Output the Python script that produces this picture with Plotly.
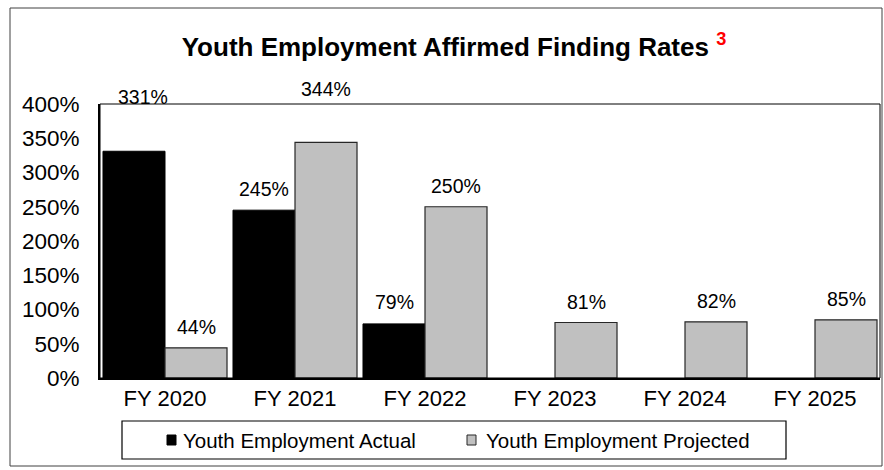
import plotly.graph_objects as go

categories = ["FY 2020", "FY 2021", "FY 2022", "FY 2023", "FY 2024", "FY 2025"]
actual = [331, 245, 79, None, None, None]
projected = [44, 344, 250, 81, 82, 85]
actual_name = "Youth Employment Actual"
projected_name = "Youth Employment Projected"
title_text = "Youth Employment Affirmed Finding Rates"
title_note = "3"
y_ticks = [0, 50, 100, 150, 200, 250, 300, 350, 400]

# label offsets (px above bar top) - style only
actual_label_shift = [54, 21, 22, 0, 0, 0]
actual_label_xshift = [9, 0, 0, 0, 0, 0]
projected_label_shift = [21, 53, 21, 21, 21, 21]

FONT = "Liberation Sans, Arial, sans-serif"
L, R, T, B = 100, 4, 104, 92
W, H = 884, 470
PW, PH = W - L - R, H - T - B

def px_x(p):
    return (p - L) / PW

def px_y(p):
    return (H - B - p) / PH

fig = go.Figure()
fig.add_trace(go.Bar(x=categories, y=actual, name=actual_name,
                     marker=dict(color="#000000", line=dict(color="#000000", width=1)),
                     showlegend=False))
fig.add_trace(go.Bar(x=categories, y=projected, name=projected_name,
                     marker=dict(color="#C0C0C0", line=dict(color="#262626", width=1.2)),
                     showlegend=False))

bargap = 0.046
half = (1 - bargap) / 4
annotations = []
for i, v in enumerate(actual):
    if v is None:
        continue
    annotations.append(dict(x=i - half, y=v, xref="x", yref="y", text=f"{v}%",
                            showarrow=False, yanchor="middle", yshift=actual_label_shift[i],
                            xshift=actual_label_xshift[i],
                            font=dict(family=FONT, size=19.5, color="#000000")))
for i, v in enumerate(projected):
    annotations.append(dict(x=i + half, y=v, xref="x", yref="y", text=f"{v}%",
                            showarrow=False, yanchor="middle", yshift=projected_label_shift[i],
                            font=dict(family=FONT, size=19.5, color="#000000")))

# manual legend
leg_font = dict(family=FONT, size=20.5, color="#000000")
annotations.append(dict(x=px_x(181), y=px_y(440), xref="paper", yref="paper", text=actual_name,
                        showarrow=False, xanchor="left", yanchor="middle", font=leg_font))
annotations.append(dict(x=px_x(484), y=px_y(440), xref="paper", yref="paper", text=projected_name,
                        showarrow=False, xanchor="left", yanchor="middle", font=leg_font))

shapes = [
    # outer frame
    dict(type="rect", xref="paper", yref="paper", x0=px_x(10), x1=px_x(882), y0=px_y(466), y1=px_y(8),
         line=dict(color="#404040", width=1), fillcolor="rgba(0,0,0,0)", layer="below"),
    # plot area border
    dict(type="rect", xref="paper", yref="paper", x0=0, x1=1, y0=0, y1=1,
         line=dict(color="#000000", width=1), fillcolor="rgba(0,0,0,0)"),
    # legend box
    dict(type="rect", xref="paper", yref="paper", x0=px_x(122), x1=px_x(786), y0=px_y(459), y1=px_y(421),
         line=dict(color="#000000", width=1.2), fillcolor="rgba(0,0,0,0)"),
    dict(type="rect", xref="paper", yref="paper", x0=px_x(167), x1=px_x(176), y0=px_y(445), y1=px_y(435),
         line=dict(color="#000000", width=1), fillcolor="#000000"),
    dict(type="rect", xref="paper", yref="paper", x0=px_x(467), x1=px_x(476), y0=px_y(445), y1=px_y(435),
         line=dict(color="#262626", width=1), fillcolor="#C0C0C0"),
]

fig.update_layout(
    width=W, height=H,
    margin=dict(l=L, r=R, t=T, b=B),
    paper_bgcolor="#FFFFFF", plot_bgcolor="#FFFFFF",
    barmode="group", bargap=bargap, bargroupgap=0,
    font=dict(family=FONT, color="#000000"),
    title=dict(text=f"<b>{title_text} <sup><span style='color:#FF0000'>{title_note}</span></sup></b>",
               x=px_x(454), xref="paper", xanchor="center",
               y=1 - 47 / H, yref="container", yanchor="middle",
               font=dict(family=FONT, size=26, color="#000000")),
    xaxis=dict(showline=True, linecolor="#000000", linewidth=2, showgrid=False, ticks="",
               tickfont=dict(family=FONT, size=22, color="#000000"), ticklabelstandoff=0,
               range=[-0.5, 5.5], fixedrange=True),
    yaxis=dict(showline=True, linecolor="#000000", linewidth=2, showgrid=False, ticks="",
               range=[0, 400], tickvals=y_ticks, ticktext=[f"{t}%" for t in y_ticks],
               tickfont=dict(family=FONT, size=22.5, color="#000000"), ticklabelstandoff=14,
               zeroline=False, fixedrange=True),
    annotations=annotations,
    shapes=shapes,
)

fig.write_html("out.html")
